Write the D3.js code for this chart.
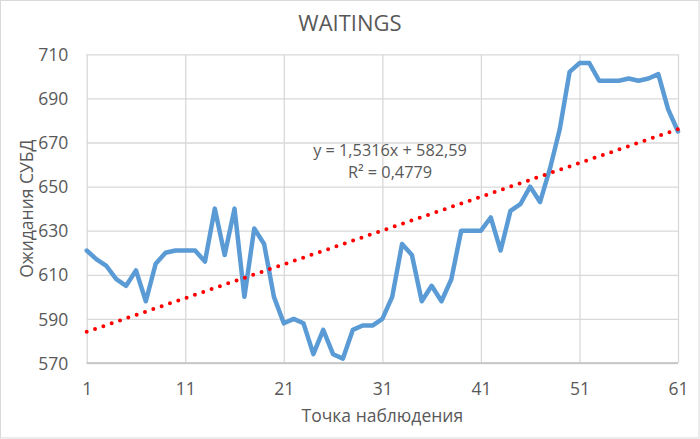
<!DOCTYPE html>
<html><head><meta charset="utf-8">
<script src="https://cdn.jsdelivr.net/npm/d3@7"></script>
<style>body{margin:0;background:#fff;} text{font-family:"Open Sans",sans-serif;fill:#595959;}</style>
</head><body><svg id="c" width="700" height="439"></svg>
<script>
const points = d3.range(1, 62);
const waitings = [621,617,614,608,605,612,598,615,620,621,
  621,621,616,640,619,640,600,631,624,600,
  588,590,588,574,585,574,572,585,587,587,
  590,600,624,619,598,605,598,608,630,630,
  630,636,621,639,642,650,643,658,676,702,
  706,706,698,698,698,699,698,699,701,685,675];
const xTicks = [1,11,21,31,41,51,61];
const yTicks = [570,590,610,630,650,670,690,710];
const trendSlope = 1.5316, trendIntercept = 582.59;
const trendLabel = ["y = 1,5316x + 582,59", "R² = 0,4779"];
const title = "WAITINGS", xTitle = "Точка наблюдения", yTitle = "Ожидания СУБД";

const svg = d3.select("#c");
const L = 86.7, R = 678, T = 54.3, B = 363;
const x = d3.scaleLinear().domain([1,61]).range([L,R]);
const y = d3.scaleLinear().domain([570,710]).range([B,T]);

svg.append("rect").attr("x",0.5).attr("y",0.5).attr("width",698.5).attr("height",437.5)
  .attr("fill","#fff").attr("stroke","#d9d9d9");

// gridlines
const gy = svg.append("g").attr("transform",`translate(${L},0)`)
  .call(d3.axisLeft(y).tickValues(yTicks).tickSize(-(R-L)).tickFormat(""));
gy.select(".domain").remove();
gy.selectAll("line").attr("stroke","#d9d9d9").attr("stroke-width",1.3);
const gx = svg.append("g").attr("transform",`translate(0,${B})`)
  .call(d3.axisBottom(x).tickValues(xTicks).tickSize(-(B-T)).tickFormat(""));
gx.select(".domain").remove();
gx.selectAll("line").attr("stroke","#d9d9d9").attr("stroke-width",1.3);
svg.append("line").attr("x1",L).attr("x2",R).attr("y1",B).attr("y2",B).attr("stroke","#bfbfbf").attr("stroke-width",1.3);

// tick labels
const ay = svg.append("g").attr("transform",`translate(${L-18.5},0)`)
  .call(d3.axisLeft(y).tickValues(yTicks).tickSize(0).tickPadding(0));
ay.select(".domain").remove();
ay.selectAll("text").attr("font-size",17.5).attr("fill","#595959").attr("font-family","Open Sans").attr("dy","0.35em");
const ax = svg.append("g").attr("transform",`translate(0,${B})`)
  .call(d3.axisBottom(x).tickValues(xTicks).tickSize(0).tickPadding(0));
ax.select(".domain").remove();
ax.selectAll("text").attr("font-size",17.5).attr("fill","#595959").attr("font-family","Open Sans").attr("dy",null).attr("y",32);

// series line
svg.append("path").datum(points.map((p,i)=>[p,waitings[i]]))
  .attr("fill","none").attr("stroke","#5b9bd5").attr("stroke-width",4.5)
  .attr("stroke-linejoin","round").attr("stroke-linecap","round")
  .attr("d", d3.line().x(d=>x(d[0])).y(d=>y(d[1])));

// trendline
svg.append("path").datum([1,61].map(p=>[p, trendSlope*p+trendIntercept]))
  .attr("fill","none").attr("stroke","#ff0000").attr("stroke-width",4)
  .attr("stroke-linecap","round").attr("stroke-dasharray","0 8.8")
  .attr("d", d3.line().x(d=>x(d[0])).y(d=>y(d[1])));

// equation
svg.append("text").attr("x",390).attr("y",155.5).attr("text-anchor","middle").attr("font-size",16.3).text(trendLabel[0]);
svg.append("text").attr("x",390).attr("y",177.5).attr("text-anchor","middle").attr("font-size",16.3).text(trendLabel[1]);

// titles
svg.append("text").attr("x",350).attr("y",31).attr("text-anchor","middle").attr("font-size",22).text(title);
svg.append("text").attr("x",(L+R)/2).attr("y",421.5).attr("text-anchor","middle").attr("font-size",17.5).text(xTitle);
svg.append("text").attr("transform",`translate(32.5,${(T+B)/2}) rotate(-90)`).attr("text-anchor","middle").attr("font-size",17.5).text(yTitle);
</script></body></html>
